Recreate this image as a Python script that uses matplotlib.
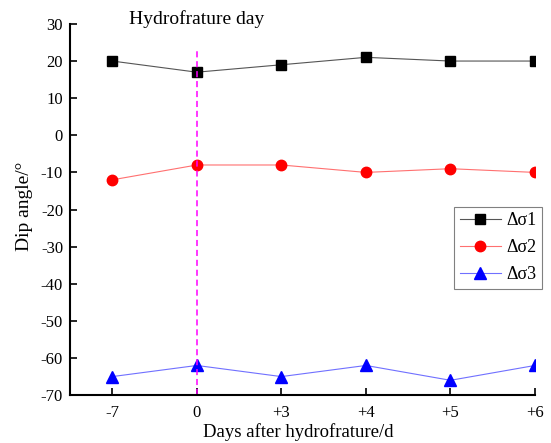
import numpy as np
import matplotlib
matplotlib.use('Agg')
import matplotlib.pyplot as plt

plt.rcParams['font.family'] = ['Liberation Serif', 'DejaVu Serif']
plt.rcParams['axes.unicode_minus'] = False

days = ['-7', '0', '+3', '+4', '+5', '+6']
sigma1 = [20, 17, 19, 21, 20, 20]
sigma2 = [-12, -8, -8, -10, -9, -10]
sigma3 = [-65, -62, -65, -62, -66, -62]
frac_day = '0'
frac_line_top = 23

x = np.arange(len(days))

fig = plt.figure(figsize=(5.51, 4.43), dpi=100)
ax = fig.add_axes([0.127, 0.108, 0.844, 0.838])

ax.plot(x, sigma1, color='#555555', linewidth=0.8, marker='s', markersize=7,
        markerfacecolor='black', markeredgecolor='black', label='Δσ1')
ax.plot(x, sigma2, color='#ff7070', linewidth=0.8, marker='o', markersize=7.5,
        markerfacecolor='red', markeredgecolor='red', label='Δσ2')
ax.plot(x, sigma3, color='#7070ff', linewidth=0.8, marker='^', markersize=8,
        markerfacecolor='blue', markeredgecolor='blue', label='Δσ3')

xf = days.index(frac_day)
ax.vlines(xf, -70, frac_line_top, colors='#ff00ff', linestyles=(0, (4, 2.5)), linewidth=1.1)
ax.text(xf, 31.2, 'Hydrofrature day', fontsize=14, ha='center', va='center', clip_on=False)

ax.set_xlim(-0.5, 5)
ax.set_ylim(-70, 30)
ax.set_xticks(x)
ax.set_xticklabels(days)
ax.set_yticks(np.arange(-70, 31, 10))
ax.tick_params(direction='in', length=5, width=1.2, labelsize=12)
ax.tick_params(axis='x', pad=7)
ax.tick_params(axis='y', pad=5)
ax.spines['top'].set_visible(False)
ax.spines['right'].set_visible(False)
ax.spines['left'].set_linewidth(1.5)
ax.spines['bottom'].set_linewidth(1.5)

ax.set_xlabel('Days after hydrofrature/d', fontsize=13.5, labelpad=0)
ax.set_ylabel('Dip angle/°', fontsize=14)
ax.xaxis.set_label_coords(0.49, -0.076)
ax.yaxis.set_label_coords(-0.079, 0.51)

leg = ax.legend(loc='upper right', bbox_to_anchor=(0.984, 0.533), bbox_transform=fig.transFigure,
                borderaxespad=0, fontsize=13, fancybox=False, edgecolor='gray', framealpha=1,
                handlelength=2.3, borderpad=0.3, labelspacing=0.55, handletextpad=0.3)
leg.get_frame().set_linewidth(0.8)

fig.savefig('out.png', dpi=100)
